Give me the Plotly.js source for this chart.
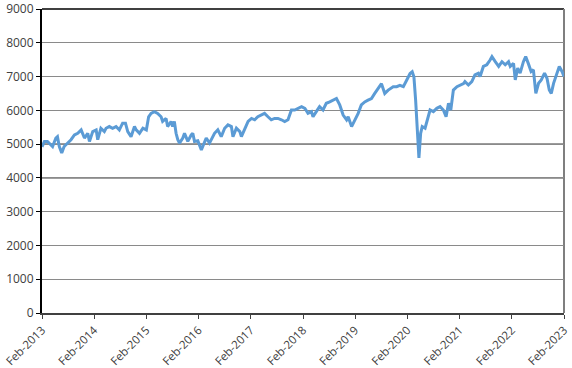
<!DOCTYPE html>
<html>
<head>
<meta charset="utf-8">
<script src="https://cdn.plot.ly/plotly-3.0.1.min.js"></script>
<style>html,body{margin:0;padding:0;background:#fff;}#chart{width:572px;height:368px;}</style>
</head>
<body>
<div id="chart"></div>
<script>
const dates = [
"2013-02-01","2013-02-18","2013-03-11","2013-03-23","2013-04-16","2013-05-09","2013-05-20","2013-06-02","2013-06-19","2013-07-06",
"2013-07-29","2013-08-23","2013-09-16","2013-10-09","2013-11-02","2013-11-25","2013-12-18","2013-12-30","2014-01-22","2014-02-15",
"2014-02-26","2014-03-20","2014-04-13","2014-04-25","2014-05-18","2014-06-10","2014-07-04","2014-07-27","2014-08-19","2014-09-08",
"2014-09-24","2014-10-17","2014-11-10","2014-11-22","2014-12-15","2015-01-08","2015-02-01","2015-02-17","2015-03-06","2015-03-29",
"2015-04-21","2015-05-15","2015-05-26","2015-06-19","2015-06-30","2015-07-24","2015-08-04","2015-08-16","2015-08-28","2015-09-09",
"2015-09-21","2015-10-14","2015-10-26","2015-11-18","2015-12-12","2015-12-23","2016-01-04","2016-01-27","2016-02-21","2016-03-02",
"2016-03-26","2016-04-18","2016-04-30","2016-05-23","2016-06-15","2016-07-09","2016-08-02","2016-08-25","2016-09-18","2016-09-29",
"2016-10-23","2016-11-16","2016-11-27","2016-12-20","2017-01-13","2017-02-06","2017-02-28","2017-03-22","2017-04-15","2017-05-08",
"2017-06-01","2017-06-24","2017-07-17","2017-08-10","2017-09-03","2017-09-26","2017-10-19","2017-11-12","2017-12-05","2017-12-28",
"2018-01-22","2018-02-14","2018-03-08","2018-04-01","2018-04-12","2018-05-05","2018-05-28","2018-06-21","2018-07-14","2018-08-07",
"2018-08-30","2018-09-23","2018-10-16","2018-11-09","2018-12-03","2018-12-14","2019-01-07","2019-01-30","2019-02-22","2019-03-16",
"2019-04-09","2019-05-02","2019-05-26","2019-06-18","2019-07-11","2019-08-04","2019-08-27","2019-09-20","2019-10-25","2019-11-18",
"2019-12-11","2020-01-04","2020-01-27","2020-02-20","2020-03-06","2020-03-18","2020-03-30","2020-04-10","2020-04-22","2020-05-04",
"2020-05-15","2020-06-04","2020-06-27","2020-07-09","2020-08-01","2020-08-25","2020-09-17","2020-10-10","2020-10-29","2020-11-15",
"2020-12-01","2020-12-19","2021-01-13","2021-02-05","2021-02-28","2021-03-10","2021-04-03","2021-04-27","2021-05-19","2021-06-12",
"2021-06-24","2021-07-17","2021-08-10","2021-09-02","2021-09-15","2021-10-08","2021-11-01","2021-11-24","2021-12-17","2022-01-09",
"2022-01-21","2022-02-13","2022-02-25","2022-03-14","2022-03-31","2022-04-23","2022-05-09","2022-05-27","2022-06-16","2022-07-02",
"2022-07-19","2022-08-07","2022-08-26","2022-09-18","2022-10-05","2022-10-21","2022-11-04","2022-11-20","2022-12-14","2022-12-30",
"2023-01-18","2023-02-01"
];
const indexValues = [
4920,5080,5080,5030,4930,5180,5220,4930,4740,4930,
5030,5130,5270,5320,5420,5180,5320,5080,5370,5420,
5130,5470,5370,5470,5520,5470,5520,5420,5620,5620,
5370,5220,5520,5420,5320,5470,5420,5810,5910,5960,
5910,5810,5670,5760,5520,5670,5520,5670,5320,5130,
5030,5180,5320,5080,5270,5320,5080,5100,4830,4930,
5180,5030,5130,5320,5420,5220,5470,5570,5520,5220,
5470,5370,5220,5470,5670,5760,5720,5810,5860,5910,
5810,5720,5760,5760,5720,5670,5720,6010,6010,6060,
6110,6060,5910,5960,5810,5960,6110,6010,6210,6250,
6300,6350,6160,5860,5720,5810,5520,5720,5910,6160,
6250,6300,6350,6500,6650,6790,6500,6600,6700,6700,
6740,6700,6890,7090,7140,6990,6300,5420,4590,5320,
5520,5470,5810,6010,5960,6060,6110,6010,5810,6210,
6010,6600,6700,6740,6790,6850,6750,6850,7050,7100,
7000,7300,7350,7490,7590,7440,7300,7440,7350,7440,
7300,7390,6900,7250,7100,7440,7590,7390,7150,7200,
6500,6800,6900,7100,6950,6600,6500,6800,7100,7300,
7150,7000
];
const yTicks = [0,1000,2000,3000,4000,5000,6000,7000,8000,9000];

const trace = {
  x: dates, y: indexValues, type: 'scatter', mode: 'lines',
  line: {color: '#5B9BD5', width: 3}, hoverinfo: 'x+y'
};
const font = {family: '"Open Sans", "Segoe UI", sans-serif', size: 12, color: '#404040'};
const xfont = {family: '"Open Sans", "Segoe UI", sans-serif', size: 11.5, color: '#404040'};
const layout = {
  width: 572, height: 368,
  margin: {l: 42, r: 8, t: 9, b: 55, pad: 0},
  paper_bgcolor: '#ffffff', plot_bgcolor: '#ffffff',
  showlegend: false, font: font,
  xaxis: {
    type: 'date', range: ['2013-02-01','2023-02-01'],
    tick0: '2013-02-01', dtick: 'M12', tickformat: '%b-%Y', tickangle: -45,
    ticks: 'outside', ticklen: 4, tickcolor: '#404040', tickwidth: 1,
    showline: true, linecolor: '#404040', linewidth: 2,
    showgrid: false, zeroline: false, tickfont: xfont
  },
  yaxis: {
    range: [0, 9000], tickvals: yTicks, ticktext: yTicks.map(String),
    ticks: 'outside', ticklen: 4, tickcolor: '#000000', tickwidth: 1,
    showline: true, linecolor: '#000000', linewidth: 2,
    showgrid: true, gridcolor: '#8a8a8a', gridwidth: 1, zeroline: false,
    tickfont: font
  },
  shapes: [
    {type:'line', xref:'paper', yref:'y', x0:0, x1:1, y0:4000, y1:4000, line:{color:'#000000', width:1}, layer:'below'},
    {type:'line', xref:'paper', yref:'y', x0:0, x1:1, y0:5000, y1:5000, line:{color:'#000000', width:1}, layer:'below'},
    {type:'line', xref:'paper', yref:'paper', x0:0, x1:1, y0:1, y1:1, line:{color:'#404040', width:2}, layer:'below'},
    {type:'line', xref:'paper', yref:'paper', x0:1, x1:1, y0:0, y1:1, line:{color:'#7f7f7f', width:2}, layer:'below'}
  ]
};
Plotly.newPlot('chart', [trace], layout, {staticPlot: true, displayModeBar: false});
</script>
</body>
</html>
